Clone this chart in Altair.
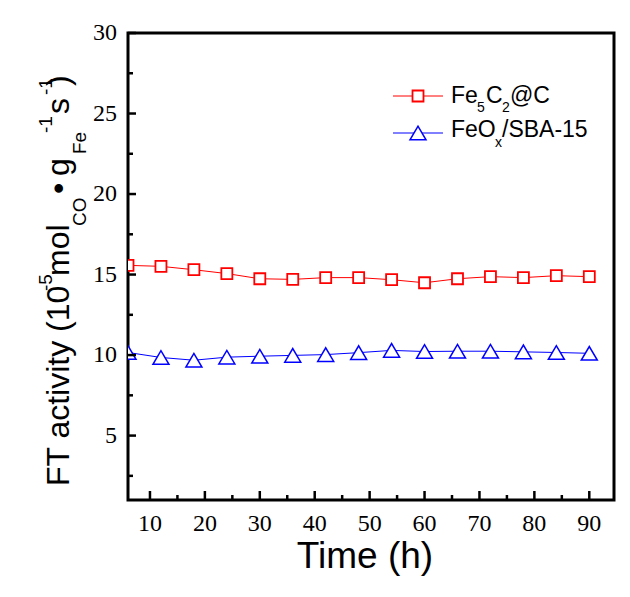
import altair as alt
import pandas as pd

# ---- data ----
time_h = [6, 12, 18, 24, 30, 36, 42, 48, 54, 60, 66, 72, 78, 84, 90]
fe5c2_c = [15.57, 15.51, 15.30, 15.06, 14.74, 14.70, 14.81, 14.81, 14.68, 14.49, 14.74, 14.87, 14.81, 14.93, 14.87]
feox_sba = [10.16, 9.85, 9.68, 9.87, 9.93, 9.98, 10.03, 10.15, 10.29, 10.22, 10.24, 10.24, 10.20, 10.16, 10.11]
series_names = ["Fe5C2@C", "FeOx/SBA-15"]
series_colors = ["#ff0000", "#0000ff"]

x_major = [10, 20, 30, 40, 50, 60, 70, 80, 90]
x_minor = [15, 25, 35, 45, 55, 65, 75, 85]
y_major = [5, 10, 15, 20, 25, 30]
y_minor = [2.5, 7.5, 12.5, 17.5, 22.5, 27.5]

x_title = "Time (h)"
# y title pieces: (text, role) role: main / sup / sub
y_title_pieces = [("FT activity (10", "main"), ("-5", "sup"), ("mol", "main"), ("CO", "sub"),
                  ("\u2022", "main"), ("g", "main"), ("Fe", "sub"), ("-1", "sup"),
                  ("s", "main"), ("-1", "sup"), (")", "main")]
legend1_pieces = [("Fe", "main"), ("5", "sub"), ("C", "main"), ("2", "sub"), ("@C", "main")]
legend2_pieces = [("FeO", "main"), ("x", "sub"), ("/SBA-15", "main")]

W, H = 486, 467
SANS = "Liberation Sans"
SERIF = "Liberation Serif, Times New Roman, Times, DejaVu Serif, serif"

df = pd.DataFrame({
    "time": time_h * 2,
    "val": fe5c2_c + feox_sba,
    "series": [series_names[0]] * len(time_h) + [series_names[1]] * len(time_h),
})

xscale = alt.Scale(domain=[6, 94.5], nice=False, zero=False)
yscale = alt.Scale(domain=[1, 30], nice=False, zero=False)
cscale = alt.Scale(domain=series_names, range=series_colors)

lines = alt.Chart(df).mark_line(strokeWidth=1, clip=True).encode(
    x=alt.X("time:Q", scale=xscale, axis=None),
    y=alt.Y("val:Q", scale=yscale, axis=None),
    color=alt.Color("series:N", scale=cscale, legend=None),
    detail="series:N",
)

sq = alt.Chart(df).transform_filter(alt.datum.series == series_names[0]).mark_point(
    shape="square", size=121, filled=True, fill="white", stroke=series_colors[0],
    strokeWidth=1.8, opacity=1, clip=True
).encode(x=alt.X("time:Q", scale=xscale, axis=None), y=alt.Y("val:Q", scale=yscale, axis=None))

TRI = "M-1,0.85L1,0.85L0,-0.85Z"
tri = alt.Chart(df).transform_filter(alt.datum.series == series_names[1]).mark_point(
    shape=TRI, size=256, filled=True, fill="white", stroke=series_colors[1],
    strokeWidth=1.5, opacity=1, clip=True
).encode(x=alt.X("time:Q", scale=xscale, axis=None), y=alt.Y("val:Q", scale=yscale, axis=None))

# inward ticks
def xticks(vals, length):
    return alt.Chart(pd.DataFrame({"time": vals})).mark_rule(color="black", strokeWidth=2.5).encode(
        x=alt.X("time:Q", scale=xscale, axis=None), y=alt.value(H), y2=alt.value(H - length))

def yticks(vals, length):
    return alt.Chart(pd.DataFrame({"val": vals})).mark_rule(color="black", strokeWidth=2.5).encode(
        y=alt.Y("val:Q", scale=yscale, axis=None), x=alt.value(0), x2=alt.value(length))

ticks = [xticks(x_major, 9), xticks(x_minor, 5), yticks(y_major, 8), yticks(y_minor, 5)]

# tick labels as text marks placed through the scales
xlabels = alt.Chart(pd.DataFrame({"time": x_major})).mark_text(
    font=SERIF, fontSize=24, color="black", align="center", baseline="alphabetic"
).encode(x=alt.X("time:Q", scale=xscale, axis=None), y=alt.value(H + 31), text="time:Q")

ylabels = alt.Chart(pd.DataFrame({"val": y_major})).mark_text(
    font=SERIF, fontSize=24, color="black", align="right", baseline="middle"
).encode(y=alt.Y("val:Q", scale=yscale, axis=None), x=alt.value(-11), text="val:Q")

def txt(s, x, y, size, angle=0, font=SANS, align="left"):
    return alt.Chart(pd.DataFrame({"t": [s]})).mark_text(
        align=align, baseline="alphabetic", angle=angle, fontSize=size, font=font, color="black"
    ).encode(text="t:N", x=alt.value(x), y=alt.value(y))

xtitle = txt(x_title, 237, 535, 37, align="center")

# y title (rotated) — start positions along the title (plot coords)
y_starts = [453, 258, 243, 193, 161, 143, 121, 100, 81, 62, 53]
role_x = {"main": -59, "sup": -76, "sub": -42}
role_size = {"main": 32, "sup": 19, "sub": 19}
ytitle = [txt(s, role_x[r], y0, role_size[r], angle=270)
          for (s, r), y0 in zip(y_title_pieces, y_starts)]

# legend
def legend_row(ybase, color, shape, size, sw):
    return [
        alt.Chart(pd.DataFrame({"s": [0]})).mark_rule(color=color, strokeWidth=1).encode(
            x=alt.value(265), x2=alt.value(315), y=alt.value(ybase)),
        alt.Chart(pd.DataFrame({"s": [0]})).mark_point(
            shape=shape, size=size, filled=True, fill="white", stroke=color, strokeWidth=sw, opacity=1
        ).encode(x=alt.value(290), y=alt.value(ybase)),
    ]

leg = []
leg += legend_row(63, series_colors[0], "square", 121, 1.8)
leg += legend_row(100, series_colors[1], TRI, 256, 1.5)
l1x = [323, 349, 358, 374, 382]
for (s, r), x0 in zip(legend1_pieces, l1x):
    leg.append(txt(s, x0, 70 if r == "main" else 79, 23 if r == "main" else 14))
l2x = [323, 367, 374]
for (s, r), x0 in zip(legend2_pieces, l2x):
    leg.append(txt(s, x0, 104 if r == "main" else 114, 23 if r == "main" else 14))

chart = alt.layer(lines, sq, tri, *ticks, xlabels, ylabels, xtitle, *ytitle, *leg).properties(
    width=W, height=H,
    background="white",
    autosize=alt.AutoSizeParams(type="none"),
    padding={"left": 120, "top": 25, "right": 8, "bottom": 80},
).configure_view(stroke="black", strokeWidth=3)

chart.save("out.html", embed_options={"renderer": "svg", "actions": False})
